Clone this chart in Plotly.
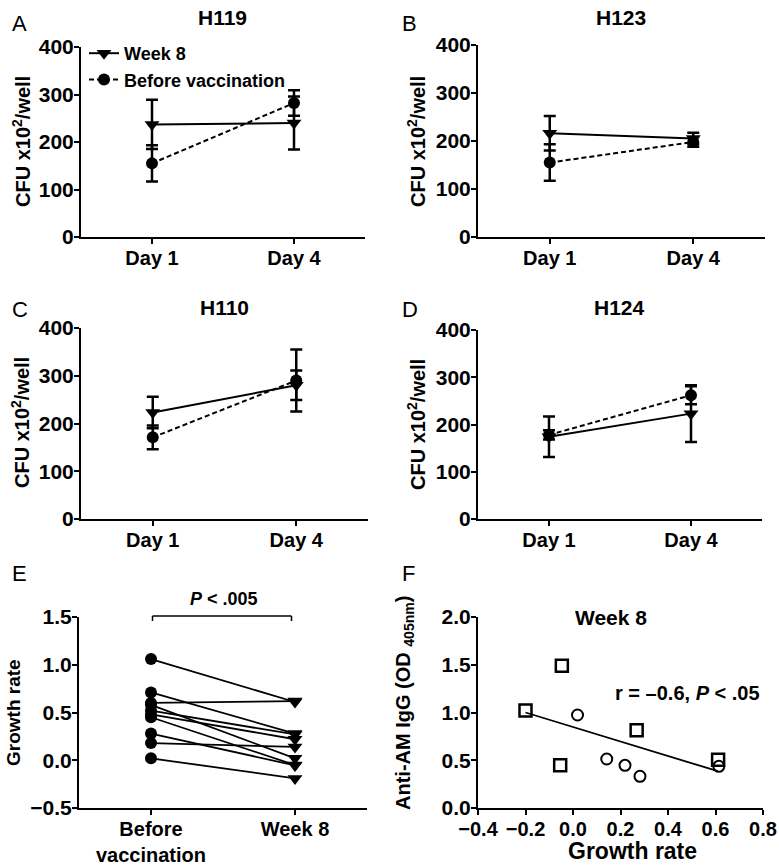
import plotly.graph_objects as go

W, H = 779, 865
FONT = "Arial, Liberation Sans, sans-serif"

days = ["Day 1", "Day 4"]

# Panel A-D: CFU x10^2/well (mean, error)
panels = ["H119", "H123", "H110", "H124"]
week8_mean = {"H119": [237, 240], "H123": [216, 205], "H110": [223, 280], "H124": [174, 223]}
week8_err = {"H119": [52, 56], "H123": [36, 12], "H110": [33, 31], "H124": [43, 60]}
before_mean = {"H119": [155, 282], "H123": [155, 198], "H110": [171, 290], "H124": [178, 262]}
before_err = {"H119": [38, 27], "H123": [38, 10], "H110": [25, 65], "H124": [10, 19]}

# Panel E: growth rate, paired
groups = ["Before<br>vaccination", "Week 8"]
growth_before = [1.06, 0.71, 0.60, 0.58, 0.52, 0.48, 0.45, 0.28, 0.18, 0.02]
growth_week8 = [0.61, 0.28, 0.62, 0.02, 0.27, 0.22, -0.05, -0.054, 0.14, -0.19]

# Panel F: Anti-AM IgG vs growth rate at week 8
sq_x = [-0.20, -0.047, -0.054, 0.268, 0.611]
sq_y = [1.02, 1.49, 0.447, 0.813, 0.506]
ci_x = [0.019, 0.142, 0.219, 0.282, 0.614]
ci_y = [0.974, 0.513, 0.447, 0.332, 0.436]
fit_x = [-0.20, 0.61]
fit_y = [1.00, 0.385]


def px_x(p):
    return p / W


def px_y(p):
    return 1 - p / H


# domains in pixels: (x0, x1, ytop, ybottom)
dom = {
    1: (81, 365, 47, 237),
    2: (478, 765, 45, 237),
    3: (81, 368, 328, 519),
    4: (478, 762, 330, 519),
    5: (79, 367, 617, 808),
    6: (478, 763, 617, 808),
}

fig = go.Figure()

axis_common = dict(
    showline=True, linecolor="black", linewidth=2, ticks="outside", ticklen=5,
    tickwidth=2, tickcolor="black", showgrid=False, zeroline=False, automargin=False,
)

layout_axes = {}
for i, (x0, x1, yt, yb) in dom.items():
    layout_axes[f"xaxis{i}"] = dict(axis_common, domain=[px_x(x0), px_x(x1)], anchor=f"y{i}",
                                    ticklabelstandoff=-3,
                                    tickfont=dict(family=FONT, size=20, color="black", weight="bold"))
    layout_axes[f"yaxis{i}"] = dict(axis_common, domain=[px_y(yb), px_y(yt)], anchor=f"x{i}",
                                    ticklabelstandoff=-4,
                                    tickfont=dict(family=FONT, size=21, color="black", weight="bold"))

for i, name in enumerate(panels, start=1):
    layout_axes[f"xaxis{i}"].update(type="category", range=[-0.5, 1.5])
    layout_axes[f"yaxis{i}"].update(range=[0, 400], tickvals=[0, 100, 200, 300, 400])
    fig.add_trace(go.Scatter(
        x=days, y=week8_mean[name], xaxis=f"x{i}", yaxis=f"y{i}",
        mode="lines+markers", name="Week 8", showlegend=(i == 1),
        line=dict(color="black", width=2),
        marker=dict(symbol="triangle-down", size=13, color="black"),
        error_y=dict(type="data", array=week8_err[name], color="black", thickness=2.5, width=6),
    ))
    fig.add_trace(go.Scatter(
        x=days, y=before_mean[name], xaxis=f"x{i}", yaxis=f"y{i}",
        mode="lines+markers", name="Before vaccination", showlegend=(i == 1),
        line=dict(color="black", width=2, dash="5px,3px"),
        marker=dict(symbol="circle", size=12, color="black"),
        error_y=dict(type="data", array=before_err[name], color="black", thickness=2.5, width=6),
    ))

# Panel E
layout_axes["xaxis5"].update(type="category", range=[-0.5, 1.5])
layout_axes["yaxis5"].update(range=[-0.5, 1.5], tickvals=[-0.5, 0, 0.5, 1.0, 1.5], tickformat=".1f")
for b, w in zip(growth_before, growth_week8):
    fig.add_trace(go.Scatter(
        x=groups, y=[b, w], xaxis="x5", yaxis="y5", mode="lines", showlegend=False,
        line=dict(color="black", width=1.8),
    ))
fig.add_trace(go.Scatter(
    x=[groups[0]] * len(growth_before), y=growth_before, xaxis="x5", yaxis="y5",
    mode="markers", showlegend=False, marker=dict(symbol="circle", size=12, color="black"),
))
fig.add_trace(go.Scatter(
    x=[groups[1]] * len(growth_week8), y=growth_week8, xaxis="x5", yaxis="y5",
    mode="markers", showlegend=False, marker=dict(symbol="triangle-down", size=13, color="black"),
))

# Panel F
layout_axes["xaxis6"].update(range=[-0.4, 0.8], tickvals=[-0.4, -0.2, 0, 0.2, 0.4, 0.6, 0.8], tickformat=".1f")
layout_axes["yaxis6"].update(range=[0, 2.0], tickvals=[0, 0.5, 1.0, 1.5, 2.0], tickformat=".1f")
fig.add_trace(go.Scatter(
    x=fit_x, y=fit_y, xaxis="x6", yaxis="y6", mode="lines", showlegend=False,
    line=dict(color="black", width=1.8),
))
fig.add_trace(go.Scatter(
    x=sq_x, y=sq_y, xaxis="x6", yaxis="y6", mode="markers", showlegend=False,
    marker=dict(symbol="square-open", size=12, color="black", line=dict(width=2.5, color="black")),
))
fig.add_trace(go.Scatter(
    x=ci_x, y=ci_y, xaxis="x6", yaxis="y6", mode="markers", showlegend=False,
    marker=dict(symbol="circle-open", size=11, color="black", line=dict(width=2, color="black")),
))

annotations = []


def ann(text, x, y, size=19, bold=True, angle=0, xanchor="center", yanchor="middle"):
    annotations.append(dict(
        text=f"<b>{text}</b>" if bold else text, x=px_x(x), y=px_y(y), xref="paper", yref="paper",
        showarrow=False, textangle=angle, xanchor=xanchor, yanchor=yanchor,
        font=dict(family=FONT, size=size, color="black"),
    ))


# Panel letters
for letter, (lx, ly) in zip("ABCDEF", [(10, 24), (400, 24), (10, 310), (400, 310), (10, 573), (400, 573)]):
    ann(letter, lx, ly, size=22, bold=False, xanchor="left")

# Titles
ann("H119", 222, 18, size=21)
ann("H123", 621, 18, size=21)
ann("H110", 224, 307, size=21)
ann("H124", 619, 307, size=21)
ann("Week 8", 611, 617, size=21)

# Y axis titles
ylab = "CFU x10<sup>2</sup>/well"
ann(ylab, 21, 142, size=20, angle=-90)
ann(ylab, 416, 142, size=20, angle=-90)
ann(ylab, 21, 423, size=20, angle=-90)
ann(ylab, 416, 425, size=20, angle=-90)
ann("Growth rate", 13, 713, size=19, angle=-90)
ann("Anti-AM IgG (OD <sub>405nm</sub>)", 404, 703, size=20, angle=-90)
ann("Growth rate", 632, 851, size=23)

# Stats
ann("<i>P</i> < .005", 224, 599, size=18)
annotations.append(dict(
    text="<b>r = \u20130.6, <i>P</i> < .05</b>", x=0.17, y=1.2, xref="x6", yref="y6",
    showarrow=False, xanchor="left", yanchor="middle",
    font=dict(family=FONT, size=20, color="black"),
))

shapes = [
    dict(type="line", xref="paper", yref="paper", x0=px_x(152.5), x1=px_x(291.5),
         y0=px_y(616), y1=px_y(616), line=dict(color="black", width=1.5)),
    dict(type="line", xref="paper", yref="paper", x0=px_x(152.5), x1=px_x(152.5),
         y0=px_y(616), y1=px_y(621), line=dict(color="black", width=1.5)),
    dict(type="line", xref="paper", yref="paper", x0=px_x(291.5), x1=px_x(291.5),
         y0=px_y(616), y1=px_y(621), line=dict(color="black", width=1.5)),
]

fig.update_layout(
    width=W, height=H, margin=dict(l=0, r=0, t=0, b=0, autoexpand=False),
    plot_bgcolor="white", paper_bgcolor="white",
    font=dict(family=FONT, color="black"),
    annotations=annotations, shapes=shapes,
    legend=dict(
        x=px_x(84), y=px_y(35), xanchor="left", yanchor="top",
        bgcolor="rgba(0,0,0,0)", font=dict(family=FONT, size=18, color="black", weight="bold"),
        tracegroupgap=0, itemwidth=30,
    ),
    **layout_axes,
)

fig.write_html(
    "out.html",
    config={"displayModeBar": False},
    post_script="document.body.style.margin='0';document.body.style.overflow='hidden';",
)
